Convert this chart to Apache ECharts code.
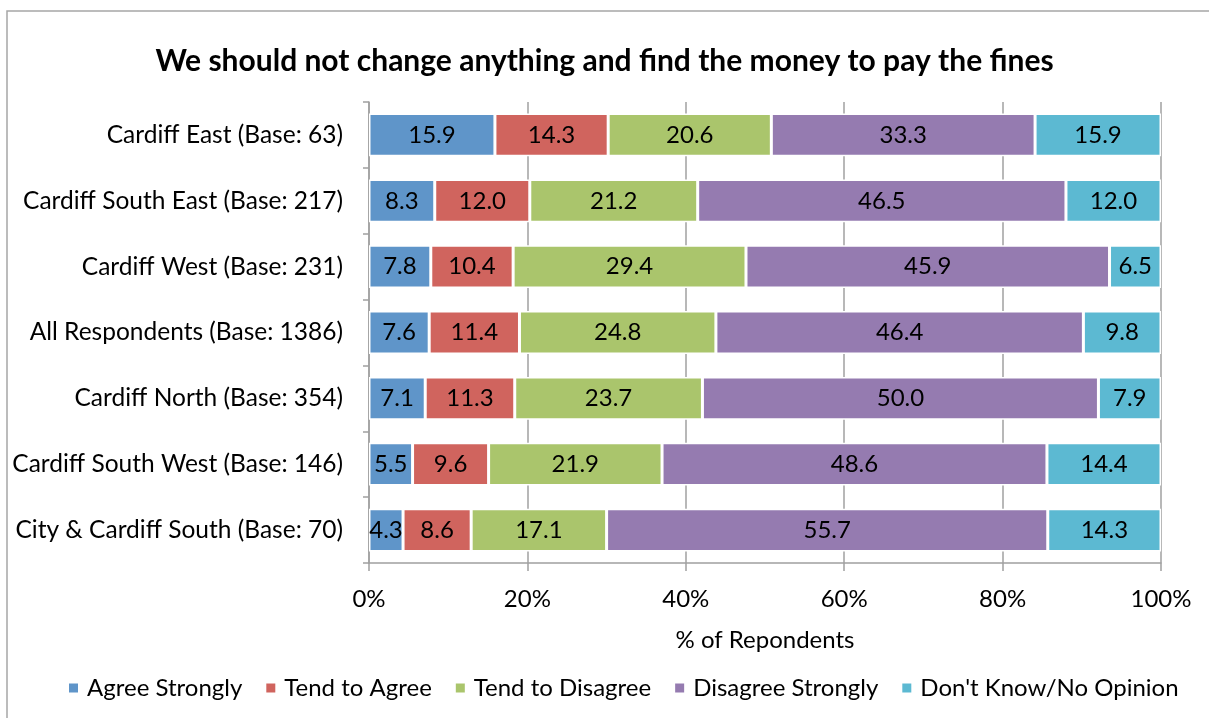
<!DOCTYPE html>
<html><head><meta charset="utf-8">
<script src="https://cdn.jsdelivr.net/npm/echarts@6/dist/echarts.min.js"></script>
<style>html,body{margin:0;padding:0;background:#fff}#c{width:1209px;height:718px}</style>
</head><body><div id="c"></div>
<script>
const categories = ["Cardiff East (Base: 63)","Cardiff South East (Base: 217)","Cardiff West (Base: 231)","All Respondents (Base: 1386)","Cardiff North (Base: 354)","Cardiff South West (Base: 146)","City & Cardiff South (Base: 70)"];
const agreeStrongly = [15.9, 8.3, 7.8, 7.6, 7.1, 5.5, 4.3];
const tendToAgree = [14.3, 12.0, 10.4, 11.4, 11.3, 9.6, 8.6];
const tendToDisagree = [20.6, 21.2, 29.4, 24.8, 23.7, 21.9, 17.1];
const disagreeStrongly = [33.3, 46.5, 45.9, 46.4, 50.0, 48.6, 55.7];
const dontKnow = [15.9, 12.0, 6.5, 9.8, 7.9, 14.4, 14.3];
const seriesNames = ["Agree Strongly","Tend to Agree","Tend to Disagree","Disagree Strongly","Don't Know/No Opinion"];
const seriesData = [agreeStrongly, tendToAgree, tendToDisagree, disagreeStrongly, dontKnow];
const colors = ["#5f95c9","#d0645e","#aac56c","#957bb0","#5cb9d2"];
const font = "Lato, 'Open Sans', sans-serif";

const chart = echarts.init(document.getElementById('c'), null, {renderer:'canvas'});
chart.setOption({
  animation:false,
  color: colors,
  textStyle:{fontFamily:font},
  title:{text:"We should not change anything and find the money to pay the fines", left:'center', top:41,
    textStyle:{fontFamily:font, fontSize:30, fontWeight:'bold', color:'#000'}},
  graphic:[{type:'rect', shape:{x:7,y:11,width:1230,height:740}, style:{fill:'none', stroke:'#a6a6a6', lineWidth:1.5}, silent:true, z:-10}],
  grid:{left:369, right:48, top:102, bottom:155, containLabel:false},
  legend:{bottom:13, left:62, icon:'rect', itemWidth:11, itemHeight:11, itemGap:22,
    textStyle:{fontFamily:font, fontSize:24, color:'#000', padding:[0,0,0,3]}},
  xAxis:{type:'value', min:0, max:100, interval:20,
    name:'% of Repondents', nameLocation:'middle', nameGap:65,
    nameTextStyle:{fontFamily:font, fontSize:24, color:'#000'},
    axisLine:{show:true, lineStyle:{color:'#a0a0a0', width:1.5}},
    axisTick:{show:true, length:8, lineStyle:{color:'#a0a0a0', width:1.5}},
    axisLabel:{formatter:'{value}%', fontFamily:font, fontSize:24, color:'#000', margin:24},
    splitLine:{show:true, lineStyle:{color:'#a0a0a0', width:1.5}}},
  yAxis:{type:'category', data:categories, inverse:true,
    axisLine:{show:true, lineStyle:{color:'#a0a0a0', width:1.5}},
    axisTick:{show:true, length:6, lineStyle:{color:'#a0a0a0', width:1.5}},
    axisLabel:{fontFamily:font, fontSize:24.5, color:'#000', margin:26}},
  series: seriesNames.map((n,i)=>({
    name:n, type:'bar', stack:'total', data:seriesData[i], barCategoryGap:'35%',
    itemStyle:{borderColor:'#fff', borderWidth:1.5},
    label:{show:true, position:'inside', fontFamily:font, fontSize:24, color:'#000',
      formatter:p=>Number(p.value).toFixed(1)}
  }))
});
</script></body></html>
